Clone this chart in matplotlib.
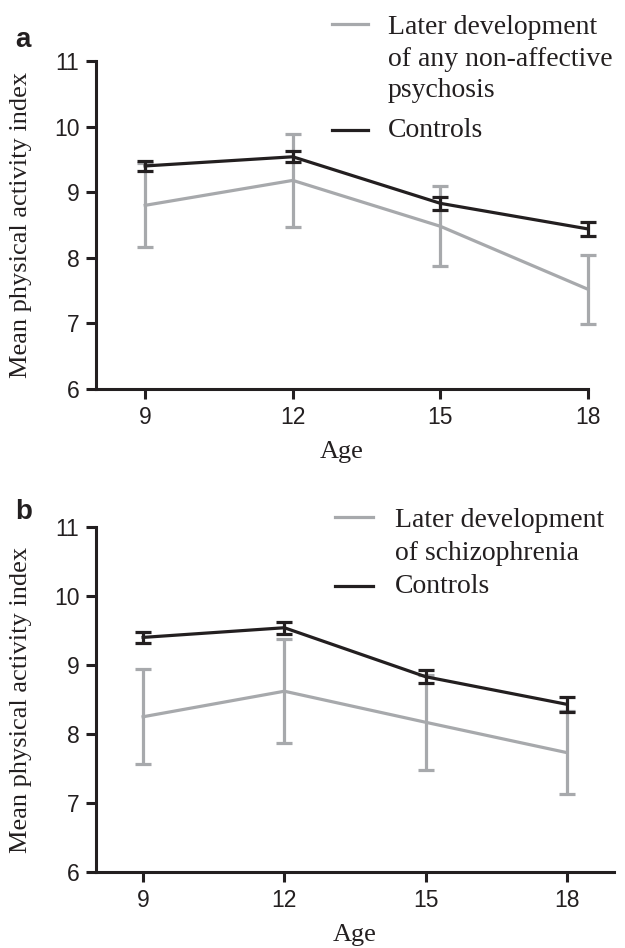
import matplotlib
matplotlib.use("Agg")
import matplotlib.pyplot as plt
from matplotlib.lines import Line2D

# data
ages = [9, 12, 15, 18]

# panel a: any non-affective psychosis vs controls
psych_mean = [8.80, 9.18, 8.48, 7.52]
psych_err = [0.64, 0.71, 0.61, 0.53]
ctrl_a_mean = [9.40, 9.54, 8.83, 8.44]
ctrl_a_err = [0.075, 0.085, 0.095, 0.11]

# panel b: schizophrenia vs controls
schiz_mean = [8.25, 8.62, 8.17, 7.73]
schiz_err = [0.69, 0.755, 0.685, 0.605]
ctrl_b_mean = [9.40, 9.54, 8.83, 8.43]
ctrl_b_err = [0.075, 0.085, 0.095, 0.105]

yticks = [6, 7, 8, 9, 10, 11]

gray = "#a7a9ac"
black = "#231f20"
serif = "Liberation Serif"
sans = "Liberation Sans"
W, H = 625.0, 948.0

fig = plt.figure(figsize=(6.25, 9.48), dpi=100)
ax_a = fig.add_axes([96 / W, 1 - 389 / H, 492 / W, 328 / H])
ax_b = fig.add_axes([96 / W, 1 - 872 / H, 518 / W, 345 / H])


def draw(ax, gmean, gerr, cmean, cerr, xmax, ylx, xly):
    for m, e, c, z in [(gmean, gerr, gray, 2), (cmean, cerr, black, 3)]:
        eb = ax.errorbar(ages, m, yerr=e, color=c, lw=2.3, capsize=6,
                         capthick=2.3, elinewidth=2.3, zorder=z)
        for art in eb.get_children():
            art.set_clip_on(False)
    ax.set_xlim(8, xmax)
    ax.set_ylim(6, 11)
    ax.set_xticks(ages)
    ax.set_yticks(yticks)
    for s in ["top", "right"]:
        ax.spines[s].set_visible(False)
    for s in ["left", "bottom"]:
        ax.spines[s].set_linewidth(2.2)
        ax.spines[s].set_color(black)
    ax.tick_params(width=2.2, length=7, color=black, labelsize=16.5, pad=5)
    for lab in ax.get_xticklabels() + ax.get_yticklabels():
        lab.set_family(sans)
        lab.set_color(black)
    ax.set_xlabel("Age", family=serif, fontsize=19, va="center", color=black)
    ax.set_ylabel("Mean physical activity index", family=serif, fontsize=19,
                  va="center", color=black)
    ax.yaxis.set_label_coords(ylx, 0.5)
    ax.xaxis.set_label_coords(0.5, xly)


draw(ax_a, psych_mean, psych_err, ctrl_a_mean, ctrl_a_err, 18, -0.152, -0.192)
draw(ax_b, schiz_mean, schiz_err, ctrl_b_mean, ctrl_b_err, 19, -0.145, -0.183)


def legend_entry(x0, x1, ytop, color, lines, ylines, xt):
    fig.add_artist(Line2D([x0 / W, x1 / W], [1 - ytop / H, 1 - ytop / H],
                          color=color, lw=2.3, transform=fig.transFigure))
    for txt, yb in zip(lines, ylines):
        fig.text(xt / W, 1 - yb / H, txt, family=serif, fontsize=20,
                 va="baseline", ha="left", color=black)


# legend, panel a
legend_entry(332, 368, 23.5, gray,
             ["Later development", "of any non-affective", "psychosis"],
             [33.5, 66, 97], 388)
legend_entry(332, 368, 130, black, ["Controls"], [137], 388)
# legend, panel b
legend_entry(335, 373, 517, gray,
             ["Later development", "of schizophrenia"], [527, 560], 395)
legend_entry(335, 373, 586, black, ["Controls"], [593], 395)

fig.text(15 / W, 1 - 47 / H, "a", family=sans, fontweight="bold",
         fontsize=20, va="baseline", color=black)
fig.text(15 / W, 1 - 519 / H, "b", family=sans, fontweight="bold",
         fontsize=20, va="baseline", color=black)

fig.savefig("out.png", dpi=100)
